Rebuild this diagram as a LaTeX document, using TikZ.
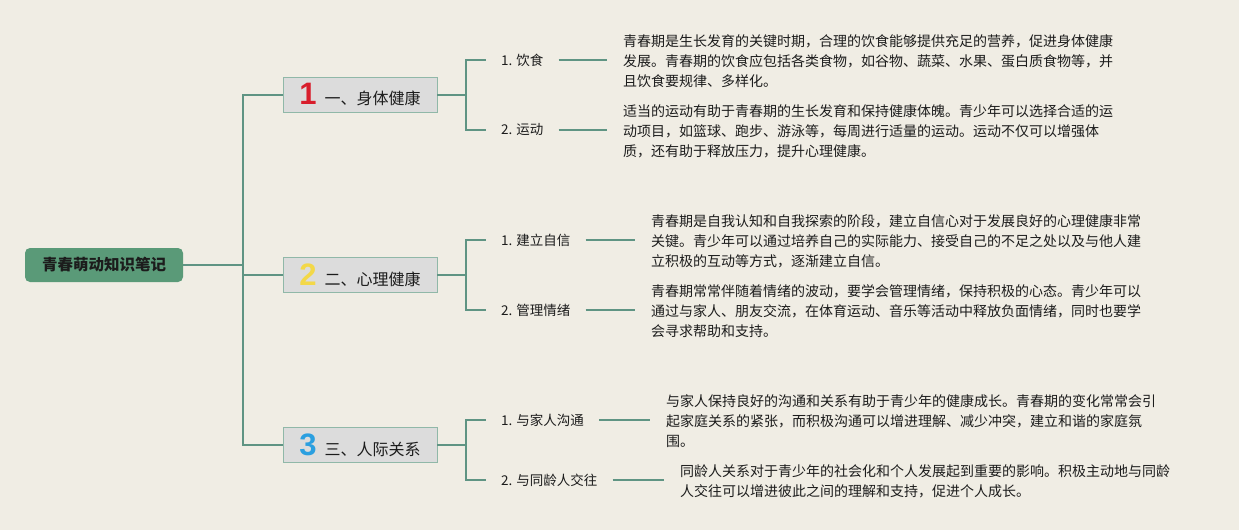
\documentclass[tikz,border=0pt]{standalone}
\usepackage{fontspec}
\setmainfont{Noto Sans CJK SC}
\newfontfamily\numfont{Liberation Sans}
\usetikzlibrary{positioning}

\definecolor{bgPaper}{HTML}{F0EDE4}
\definecolor{linkGreen}{HTML}{5F9483}
\definecolor{rootGreen}{HTML}{5A9A78}
\definecolor{boxGray}{HTML}{DCDCDC}
\definecolor{boxLine}{HTML}{90B8A8}
\definecolor{inkText}{HTML}{1C1C1C}
\definecolor{numRed}{HTML}{D81E2C}
\definecolor{numYellow}{HTML}{F3D848}
\definecolor{numBlue}{HTML}{2A9FE0}

\tikzstyle{rootNode}=[shape=rectangle,rounded corners=5pt,fill=rootGreen,minimum width=158pt,minimum height=34pt,inner sep=0pt,font=\fontsize{15.5}{18}\selectfont\bfseries]
\tikzstyle{branchNode}=[shape=rectangle,draw=boxLine,line width=0.8pt,fill=boxGray,minimum width=154pt,minimum height=35pt,inner sep=0pt,font=\fontsize{16}{19}\selectfont]
\tikzstyle{leafNode}=[anchor=west,inner xsep=15pt,inner ysep=2pt,font=\fontsize{13.5}{16}\selectfont]
\tikzstyle{noteNode}=[anchor=west,align=left,inner xsep=16pt,inner ysep=0pt,font=\fontsize{14}{19.8}\selectfont]
\tikzstyle{link}=[draw=linkGreen,line width=1.8pt]

\newcommand{\bignum}[2]{{\numfont\bfseries\fontsize{31}{31}\selectfont\color{#1}#2}\hspace{8pt}}

\begin{document}
\begin{tikzpicture}[x=1pt,y=-1pt,text=inkText]
        \useasboundingbox[fill=bgPaper] (0,0) rectangle (1239,530);

        % root
        \node[rootNode] (root) at (104,265) {青春萌动知识笔记};

        % branches
        \node[branchNode] (b1) at (360,95)  {\bignum{numRed}{1}一、身体健康};
        \node[branchNode] (b2) at (360,275) {\bignum{numYellow}{2}二、心理健康};
        \node[branchNode] (b3) at (360,445) {\bignum{numBlue}{3}三、人际关系};

        % leaves
        \node[leafNode] (l11) at (486,60)  {1. 饮食};
        \node[leafNode] (l12) at (486,130) {2. 运动};
        \node[leafNode] (l21) at (486,240) {1. 建立自信};
        \node[leafNode] (l22) at (486,310) {2. 管理情绪};
        \node[leafNode] (l31) at (486,420) {1. 与家人沟通};
        \node[leafNode] (l32) at (486,480) {2. 与同龄人交往};

        % notes
        \node[noteNode] (t11) at (607,61)  {青春期是生长发育的关键时期，合理的饮食能够提供充足的营养，促进身体健康\\发展。青春期的饮食应包括各类食物，如谷物、蔬菜、水果、蛋白质食物等，并\\且饮食要规律、多样化。};
        \node[noteNode] (t12) at (607,131) {适当的运动有助于青春期的生长发育和保持健康体魄。青少年可以选择合适的运\\动项目，如篮球、跑步、游泳等，每周进行适量的运动。运动不仅可以增强体\\质，还有助于释放压力，提升心理健康。};
        \node[noteNode] (t21) at (635,241) {青春期是自我认知和自我探索的阶段，建立自信心对于发展良好的心理健康非常\\关键。青少年可以通过培养自己的实际能力、接受自己的不足之处以及与他人建\\立积极的互动等方式，逐渐建立自信。};
        \node[noteNode] (t22) at (635,311) {青春期常常伴随着情绪的波动，要学会管理情绪，保持积极的心态。青少年可以\\通过与家人、朋友交流，在体育运动、音乐等活动中释放负面情绪，同时也要学\\会寻求帮助和支持。};
        \node[noteNode] (t31) at (650,421) {与家人保持良好的沟通和关系有助于青少年的健康成长。青春期的变化常常会引\\起家庭关系的紧张，而积极沟通可以增进理解、减少冲突，建立和谐的家庭氛\\围。};
        \node[noteNode] (t32) at (664,481) {同龄人关系对于青少年的社会化和个人发展起到重要的影响。积极主动地与同龄\\人交往可以增进彼此之间的理解和支持，促进个人成长。};

        % joints
        \coordinate (j0) at (243,265);
        \coordinate (j1) at (466,95);
        \coordinate (j2) at (466,275);
        \coordinate (j3) at (466,445);

        \draw[link] (root.east) -- (j0);
        \draw[link] (j0) |- (b1.west);
        \draw[link] (j0) |- (b2.west);
        \draw[link] (j0) |- (b3.west);

        \draw[link] (b1.east) -- (j1);
        \draw[link] (j1) |- (l11.west);
        \draw[link] (j1) |- (l12.west);
        \draw[link] (b2.east) -- (j2);
        \draw[link] (j2) |- (l21.west);
        \draw[link] (j2) |- (l22.west);
        \draw[link] (b3.east) -- (j3);
        \draw[link] (j3) |- (l31.west);
        \draw[link] (j3) |- (l32.west);

        \draw[link] (l11) -- (l11 -| t11.west);
        \draw[link] (l12) -- (l12 -| t12.west);
        \draw[link] (l21) -- (l21 -| t21.west);
        \draw[link] (l22) -- (l22 -| t22.west);
        \draw[link] (l31) -- (l31 -| t31.west);
        \draw[link] (l32) -- (l32 -| t32.west);
    \end{tikzpicture}
\end{document}
